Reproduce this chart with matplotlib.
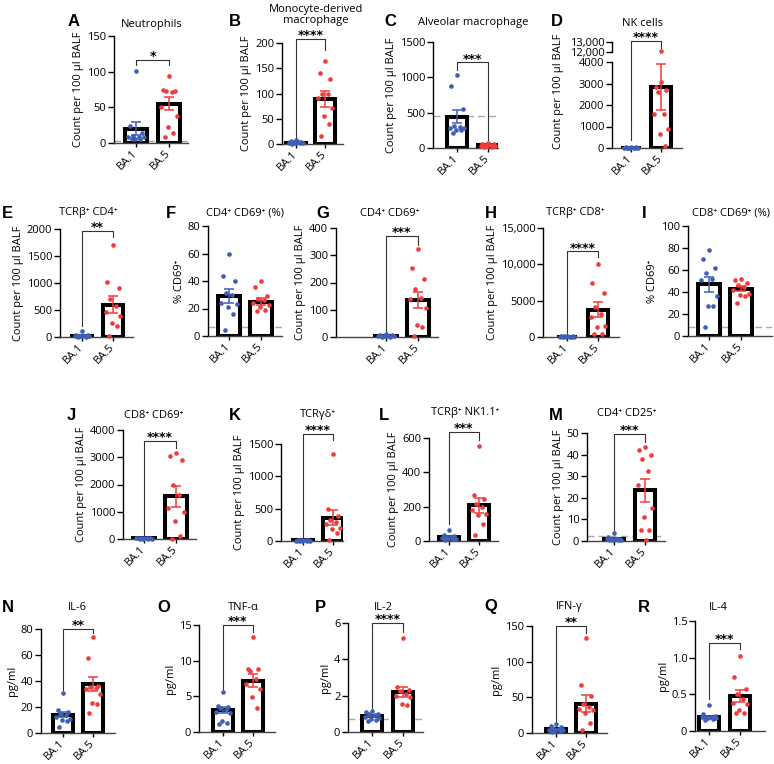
import numpy as np
import matplotlib.pyplot as plt

plt.rcParams['font.family'] = ['Open Sans', 'DejaVu Sans']

W, H = 774, 764
BLUE = '#3f5fb4'
RED = '#f03c3c'
groups = ['BA.1', 'BA.5']

# ---- data (counts / % / pg/ml) ----
A_ba1 = [101, 24, 14, 10, 9, 9, 8, 6, 5, 5]
A_ba5 = [94, 75, 73, 73, 71, 50, 38, 23, 14, 8]
A_mean, A_sem = [20, 55], [9, 9]

B_ba1 = [7, 5, 4, 3, 3, 2, 2, 1, 1, 0]
B_ba5 = [164, 141, 129, 99, 99, 91, 71, 56, 39, 16]
B_mean, B_sem = [2.5, 89], [0.7, 16]

C_ba1 = [1035, 878, 546, 310, 300, 290, 285, 250, 250, 215]
C_ba5 = [75, 55, 50, 45, 40, 35, 30, 25, 20, 15]
C_mean, C_sem = [445, 40], [95, 6]

D_ba1 = [40, 30, 25, 20, 15, 10, 8, 5, 3, 0]
D_ba5 = [12150, 3080, 2820, 2720, 2620, 1600, 1600, 900, 640, 90]
D_mean, D_sem = [15, 2850], [4, 1070]

E_ba1 = [105, 40, 30, 25, 20, 15, 10, 10, 5, 5]
E_ba5 = [1705, 1015, 905, 700, 565, 455, 395, 260, 195, 10]
E_mean, E_sem = [27, 597], [10, 155]

F_ba1 = [60, 44, 40, 31, 30, 24, 23.5, 21, 16, 4.5]
F_ba5 = [40, 36, 29, 27, 26, 24, 22.5, 21, 19, 18]
F_mean, F_sem = [29, 25], [5, 2.3]

G_ba1 = [10, 8, 6, 5, 4, 3, 3, 2, 1, 0]
G_ba5 = [322, 252, 212, 175, 142, 138, 108, 43, 37, 2]
G_mean, G_sem = [4, 135], [1, 30]

H_ba1 = [150, 120, 100, 80, 60, 50, 40, 30, 20, 10]
H_ba5 = [10060, 7380, 6090, 4060, 3230, 2770, 1480, 1385, 460, 370]
H_mean, H_sem = [66, 3780], [14, 1000]

I_ba1 = [78, 70, 62, 57, 52, 51, 36, 27, 27, 8.5]
I_ba5 = [51.5, 51, 48, 46, 45, 42, 38, 37, 36, 30]
I_mean, I_sem = [47, 43], [6.8, 2.2]

J_ba1 = [50, 40, 35, 30, 25, 20, 15, 10, 8, 5]
J_ba5 = [3146, 3049, 2902, 1988, 1622, 1134, 976, 646, 122, 0]
J_mean, J_sem = [24, 1560], [5, 380]

K_ba1 = [20, 15, 12, 10, 8, 6, 5, 4, 3, 2]
K_ba5 = [1340, 500, 380, 320, 290, 260, 200, 180, 130, 20]
K_mean, K_sem = [8, 362], [2, 118]

L_ba1 = [62, 33, 27, 23, 19, 17, 14, 14, 10, 8]
L_ba5 = [551, 266, 247, 214, 198, 183, 159, 150, 101, 33]
L_mean, L_sem = [23, 208], [5, 44]

M_ba1 = [3.7, 1.9, 1.1, 1.0, 0.8, 0.7, 0.6, 0.5, 0.4, 0.3]
M_ba5 = [43.5, 42, 40, 38, 32.4, 25.8, 15.4, 11.1, 5.2, 4.9, 0.3]
M_mean, M_sem = [1.1, 23.5], [0.33, 5.4]

N_ba1 = [31, 17.5, 16, 15, 13.7, 12.4, 11, 9.8, 9.3, 4.6]
N_ba5 = [74, 57.5, 36, 35.6, 35, 33.5, 30, 22.7, 22, 15.5]
N_mean, N_sem = [14.2, 37.4], [2, 5.3]

O_ba1 = [5.6, 3.6, 3.5, 3.4, 3.05, 2.8, 2.6, 1.6, 1.27, 1.17]
O_ba5 = [13.3, 8.9, 8.9, 8.6, 7.5, 6.7, 6.0, 4.9, 3.4]
O_mean, O_sem = [3.05, 7.2], [0.4, 0.9]

P_ba1 = [1.16, 1.1, 1.0, 0.98, 0.92, 0.83, 0.75, 0.74, 0.65, 0.61]
P_ba5 = [5.17, 2.5, 2.3, 2.25, 2.1, 2.0, 1.9, 1.55, 1.46]
P_mean, P_sem = [0.87, 2.2], [0.05, 0.3]

Q_ba1 = [12, 9.5, 8.5, 7.5, 6, 4.7, 3.7, 3.3, 2.3, 1.4]
Q_ba5 = [133, 67, 51.6, 40, 36.6, 34, 32, 28, 14, 3.7]
Q_mean, Q_sem = [5.2, 41], [1.1, 12]

R_ba1 = [0.353, 0.23, 0.2, 0.195, 0.19, 0.186, 0.18, 0.172, 0.163, 0.15]
R_ba5 = [1.02, 0.73, 0.57, 0.50, 0.43, 0.376, 0.367, 0.28, 0.25, 0.25]
R_mean, R_sem = [0.186, 0.476], [0.017, 0.08]

titles = {
    'A': 'Neutrophils', 'B': 'Monocyte-derived\nmacrophage', 'C': 'Alveolar macrophage',
    'D': 'NK cells', 'E': 'TCRβ⁺ CD4⁺', 'F': 'CD4⁺ CD69⁺ (%)', 'G': 'CD4⁺ CD69⁺',
    'H': 'TCRβ⁺ CD8⁺', 'I': 'CD8⁺ CD69⁺ (%)', 'J': 'CD8⁺ CD69⁺', 'K': 'TCRγδ⁺',
    'L': 'TCRβ⁺ NK1.1⁺', 'M': 'CD4⁺ CD25⁺', 'N': 'IL-6', 'O': 'TNF-α', 'P': 'IL-2',
    'Q': 'IFN-γ', 'R': 'IL-4',
}
count_lbl = 'Count per 100 µl BALF'
ylabels = {k: count_lbl for k in 'ABCDEGHJKLM'}
ylabels.update({'F': '% CD69⁺', 'I': '% CD69⁺'})
ylabels.update({k: 'pg/ml' for k in 'NOPQR'})

# y-axis max and tick step
yscale = {'A': (150, 50), 'B': (200, 50), 'C': (1500, 500), 'D': (4000, 1000),
          'E': (2000, 500), 'F': (80, 20), 'G': (400, 100), 'H': (15000, 5000),
          'I': (100, 20), 'J': (4000, 1000), 'K': (1500, 500), 'L': (600, 200),
          'M': (50, 10), 'N': (80, 20), 'O': (15, 5), 'P': (6, 2), 'Q': (150, 50),
          'R': (1.5, 0.5)}

# significance brackets: (bracket y, left foot, right foot, label)
sig = {'A': (117, 109, 109, '*'), 'B': (208, 8, 186, '****'),
       'C': (1215, 1105, 110, '***'), 'D': (4980, 370, 4650, '****'),
       'E': (1963, 200, 1860, '**'), 'G': (372, 18, 338, '***'),
       'H': (11770, 460, 10985, '****'), 'J': (3610, 160, 3330, '****'),
       'K': (1660, 62, 1556, '****'), 'L': (635, 100, 586, '***'),
       'M': (49.7, 5, 45.8, '***'), 'N': (80, 33, 77, '**'),
       'O': (15, 6.0, 14, '***'), 'P': (6, 1.3, 5.5, '****'),
       'Q': (150, 12, 140, '**'), 'R': (1.2, 0.44, 1.12, '***')}

# detection limit lines
lod = {'A': 2.3, 'C': 450, 'F': 6.8, 'I': 8.5, 'M': 2.3, 'P': 0.74}

# layout in pixels: axis left, axis right, BA.1 x, BA.5 x, top tick y, zero y
lay = {'A': (114, 188, 136, 169, 36, 143), 'B': (282, 343, 296, 325, 43, 144),
       'C': (433, 498, 457, 488, 42, 148), 'D': (612, 682, 631, 661, 62, 148),
       'E': (60, 133, 82, 113, 229, 337), 'F': (208, 282, 229, 261, 226, 336),
       'G': (336, 438, 386, 418, 228, 337), 'H': (543, 619, 567, 598, 228, 337),
       'I': (688, 772, 709, 741, 226, 336), 'J': (123, 196, 144, 176, 430, 539),
       'K': (281, 343, 303, 333, 444, 541), 'L': (429, 498, 449, 479, 438, 541),
       'M': (587, 665, 614, 645, 433, 541), 'N': (41, 115, 63, 93, 629, 733),
       'O': (199, 275, 223, 253, 625, 732), 'P': (348, 423, 372, 403, 623, 732),
       'Q': (532, 607, 556, 586, 626, 733), 'R': (695, 765, 709, 740, 621, 731)}
title_pos = {'A': (152, 24), 'B': (316, 15), 'C': (473, 23), 'D': (642, 23),
             'E': (88, 213), 'F': (245, 213), 'G': (390, 213), 'H': (575, 213),
             'I': (731, 213), 'J': (154, 415), 'K': (318, 414), 'L': (465, 413),
             'M': (627, 413), 'N': (77, 607), 'O': (243, 607), 'P': (383, 607),
             'Q': (569, 607), 'R': (718, 607)}
letter_pos = {'A': (74, 22), 'B': (235, 22), 'C': (390, 22), 'D': (557, 22),
              'E': (7, 213), 'F': (171, 213), 'G': (323, 213), 'H': (491, 213),
              'I': (644, 213), 'J': (71, 415), 'K': (235, 415), 'L': (384, 415),
              'M': (556, 415), 'N': (8, 607), 'O': (164, 607), 'P': (320, 607),
              'Q': (491, 607), 'R': (644, 607)}

data = {k: (globals()[k + '_ba1'], globals()[k + '_ba5'],
            globals()[k + '_mean'], globals()[k + '_sem']) for k in 'ABCDEFGHIJKLMNOPQR'}

JIT = [0, -0.18, 0.18, -0.09, 0.09, -0.24, 0.24, -0.04, 0.13, -0.13, 0.04]
FS = 8

fig = plt.figure(figsize=(W / 100, H / 100), dpi=100)


def px_ax(l, r, t, b):
    return fig.add_axes([l / W, 1 - b / H, (r - l) / W, (b - t) / H])


def fmt(v, step):
    if step < 1:
        return '0' if v == 0 else f'{v:.1f}'
    v = int(round(v))
    return f'{v:,}' if v >= 10000 else str(v)


def draw(k):
    l, r, c1, c5, yt, y0 = lay[k]
    ba1, ba5, mean, sem = data[k]
    ymax, step = yscale[k]
    sp = c5 - c1
    ax = px_ax(l, r, yt, y0)
    ax.set_xlim((l - c1) / sp, (r - c1) / sp)
    ax.set_ylim(0, ymax)
    ax.bar([0, 1], mean, width=0.66, color='white', edgecolor='black',
           linewidth=2.9, zorder=2)
    for i, (pts, col) in enumerate([(ba1, BLUE), (ba5, RED)]):
        pts = [p for p in pts if p <= ymax * 1.05]
        xs = [i + JIT[j % len(JIT)] for j in range(len(pts))]
        ax.scatter(xs, pts, s=11, color=col, zorder=4, clip_on=False, linewidths=0)
        ax.errorbar(i, mean[i], yerr=sem[i], color=col, capsize=3.5, elinewidth=1.1,
                    capthick=1.1, zorder=5, clip_on=False)
    if k in lod:
        ax.axhline(lod[k], color='#a8a8a8', lw=1, ls=(0, (5, 3)), zorder=1)
    if k in sig:
        yb, lf, rf, s = sig[k]
        ax.plot([0, 0, 1, 1], [lf, yb, yb, rf], color='#333333', lw=0.8,
                clip_on=False, zorder=3)
        ax.annotate(s, (0.5, yb), xytext=(0, -2.5), textcoords='offset points',
                    ha='center', va='bottom', fontsize=9, fontweight='bold',
                    family='DejaVu Sans', annotation_clip=False)
    ticks = np.arange(0, ymax + step / 2, step)
    ax.set_yticks(ticks)
    ax.set_yticklabels([fmt(t, step) for t in ticks])
    ax.set_xticks([0, 1])
    ax.set_xticklabels(groups, rotation=45, ha='right', va='center',
                       rotation_mode='anchor')
    ax.tick_params(axis='y', labelsize=FS, length=4, width=1, pad=1.5)
    ax.tick_params(axis='x', labelsize=FS, length=3, width=1, pad=3)
    for sname in ['top', 'right']:
        ax.spines[sname].set_visible(False)
    ax.spines['left'].set_linewidth(1)
    ax.spines['bottom'].set_linewidth(1)
    ax.spines['bottom'].set_color('#444444')
    ax.set_ylabel(ylabels[k], fontsize=FS, labelpad=2)
    tx, ty = title_pos[k]
    fig.text(tx / W, 1 - ty / H, titles[k], ha='center', va='center', fontsize=FS,
             linespacing=1.1)
    lx, ly = letter_pos[k]
    fig.text(lx / W, 1 - ly / H, k, ha='center', va='center', fontsize=12,
             fontweight='bold', family=['Liberation Sans', 'DejaVu Sans'])
    return ax


axes = {k: draw(k) for k in 'ABCDEFGHIJKLMNOPQR'}

# panel D: label sits left of the wide upper tick labels
axes['D'].yaxis.set_label_coords(-0.68, 0.66)

# broken upper segment of panel D
l, r, c1, c5, yt, y0 = lay['D']
sp = c5 - c1
axu = px_ax(l, r, 42, 52)
axu.set_xlim((l - c1) / sp, (r - c1) / sp)
axu.set_ylim(12000, 13000)
hi = [p for p in D_ba5 if p > 4000]
axu.scatter([1 + JIT[j] for j in range(len(hi))], hi, s=11, color=RED,
            clip_on=False, linewidths=0, zorder=4)
axu.set_yticks([12000, 13000])
axu.set_yticklabels(['12,000', '13,000'])
axu.set_xticks([])
axu.tick_params(axis='y', labelsize=FS, length=4, width=1, pad=1.5)
for sname in ['top', 'right', 'bottom']:
    axu.spines[sname].set_visible(False)
axu.spines['left'].set_linewidth(1)
axu.patch.set_alpha(0)

fig.savefig('out.png', dpi=100)
